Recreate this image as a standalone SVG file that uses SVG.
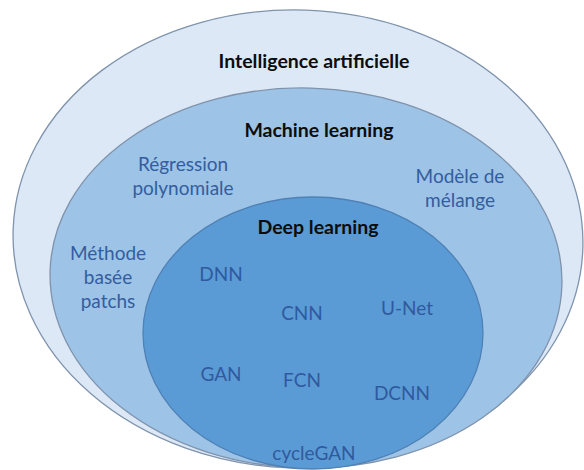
<svg xmlns="http://www.w3.org/2000/svg" width="584" height="470" viewBox="0 0 584 470">
  <style>
    .ell { stroke: #7f93ad; stroke-width: 1.3; }
    .title { font-family: Lato, "Open Sans", "Liberation Sans", sans-serif; font-weight: bold; font-size: 19.5px; fill: #0d0d0d; text-anchor: middle; }
    .lbl { font-family: Lato, "Open Sans", "Liberation Sans", sans-serif; font-size: 19px; fill: #335d9f; text-anchor: middle; }
    .lbl2 { fill: #2f5a9e; }
  </style>
  <rect width="584" height="470" fill="#ffffff"/>
  <g id="ia">
    <ellipse class="ell" cx="298" cy="239" rx="285" ry="229" fill="#dce8f5" transform="rotate(2 298 239)"/>
    <text class="title" x="314" y="68">Intelligence artificielle</text>
  </g>
  <g id="ml">
    <ellipse class="ell" cx="306" cy="278" rx="256" ry="190" fill="#9dc3e6" transform="rotate(1.5 306 278)"/>
    <text class="title" x="319" y="137">Machine learning</text>
    <text class="lbl" x="183" y="171">Régression</text>
    <text class="lbl" x="183" y="195">polynomiale</text>
    <text class="lbl" x="460" y="183">Modèle de</text>
    <text class="lbl" x="460" y="207">mélange</text>
    <text class="lbl" x="108" y="260">Méthode</text>
    <text class="lbl" x="108" y="284">basée</text>
    <text class="lbl" x="108" y="308">patchs</text>
  </g>
  <g id="dl">
    <ellipse cx="313" cy="333" rx="170" ry="136" fill="#5b9bd5" stroke="#4f81b5" stroke-width="1.3"/>
    <text class="title" x="318" y="234">Deep learning</text>
    <text class="lbl lbl2" x="221" y="281">DNN</text>
    <text class="lbl lbl2" x="302" y="320">CNN</text>
    <text class="lbl lbl2" x="407" y="315">U-Net</text>
    <text class="lbl lbl2" x="221" y="381">GAN</text>
    <text class="lbl lbl2" x="302" y="387">FCN</text>
    <text class="lbl lbl2" x="402" y="400">DCNN</text>
    <text class="lbl lbl2" x="314" y="460">cycleGAN</text>
  </g>
  <g id="connectors"></g>
</svg>
